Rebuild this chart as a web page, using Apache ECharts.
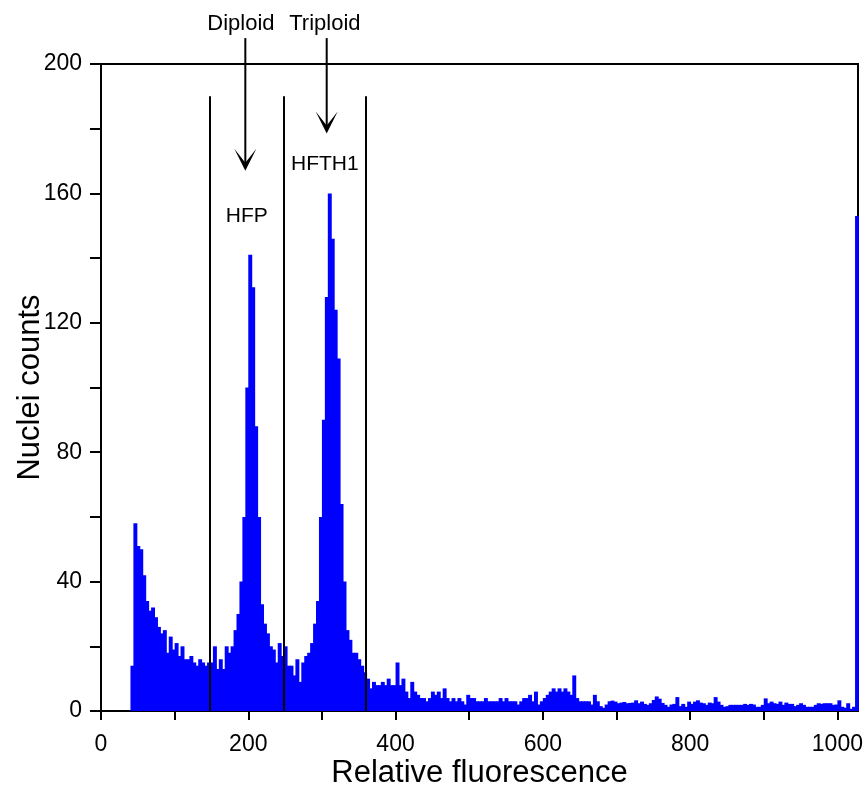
<!DOCTYPE html>
<html><head><meta charset="utf-8">
<script src="https://cdn.jsdelivr.net/npm/echarts@6/dist/echarts.min.js"></script>
<style>html,body{margin:0;padding:0;background:#fff}#c{width:865px;height:787px}</style>
</head><body><div id="c"></div>
<script>
// Histogram definition
const binStart = 40;
const binWidth = 4;
const counts = [
  14,58,51,50,42,34,31,32,29,26,24,25,18,23,19,21,17,20,16,16,
  17,15,14,16,15,14,15,15,20,13,16,13,20,18,20,25,30,40,60,100,
  141,131,88,60,33,27,24,20,19,15,21,17,20,14,14,11,16,9,15,17,
  18,21,27,34,60,90,128,160,146,124,109,64,40,25,22,18,18,16,14,12,
  10,
  7,9,8,8,9,8,10,8,8,15,
  8,10,6,4,9,6,5,4,4,3,
  4,6,5,6,4,7,4,3,4,3,
  4,3,2,5,4,4,3,3,3,4,
  3,3,3,3,4,3,4,3,3,3,
  2,3,4,4,5,3,6,2,3,4,
  5,6,7,6,7,6,7,6,5,11,
  4,3,3,3,3,2,5,3,1.5,1,
  2,3,
  3.2,2.9,2.4,2.6,2.8,2.4,2.5,2.6,3.3,2.4,
  2.9,2.2,1.9,2.4,3.4,4.5,3.8,2.5,1.9,1.3,
  2.0,2.2,4.3,1.5,2.2,1.3,2.9,2.2,2.9,3.3,
  2.6,2.4,1.9,2.6,2.4,4.3,2.9,1.9,1.3,1.5,
  1.9,1.9,1.9,1.9,1.9,2.2,1.9,2.2,2.0,1.3,
  1.3,1.9,3.9,2.4,2.9,2.4,2.2,2.9,1.9,2.6,
  2.2,2.2,1.5,1.9,2.4,1.9,1.3,1.3,1.3,1.9,
  2.4,2.2,2.4,2.4,2.4,1.9,2.0,3.3,1.3,1.0,
  2.4,0.7,1.3,153
];
const xTickLabels = [0,200,400,600,800,1000];
const yTickLabels = [0,40,80,120,160,200];
const gateLines = [148, 248, 360];
const gateTop = 190;
const peakNames = ['HFP','HFTH1'];
const peakNamePos = [[198,153],[304,169]];
const ploidyNames = ['Diploid','Triploid'];
const ploidyNamePos = [[190,212.5],[304,212.5]];
const arrowX = [196, 306.5];
const arrowTip = [167, 178.5];
const arrowStart = 208;

const bins = counts.map((c,i)=>[binStart+i*binWidth, binStart+(i+1)*binWidth, c]);
const narrow = "'Liberation Sans Narrow','Arial Narrow','Liberation Sans',sans-serif";
const regular = "'Liberation Sans',Arial,sans-serif";

const chart = echarts.init(document.getElementById('c'));
chart.setOption({
  animation:false,
  backgroundColor:'#fff',
  grid:{left:101,right:7,top:64,bottom:76,show:true,borderColor:'#000',borderWidth:2,
    containLabel:false,outerBoundsMode:'none'},
  xAxis:{type:'value',min:0,max:1028,interval:100,
    name:'Relative fluorescence',nameLocation:'middle',nameGap:47,nameMoveOverlap:false,
    nameTextStyle:{fontSize:31,color:'#000',fontFamily:regular},
    axisLine:{lineStyle:{color:'#000',width:2}},
    axisTick:{length:9,lineStyle:{color:'#000',width:2}},
    splitLine:{show:false},
    axisLabel:{margin:22,fontSize:23,color:'#000',fontFamily:narrow,showMaxLabel:false,
      formatter:v=>xTickLabels.includes(v)?String(v):''}},
  yAxis:{type:'value',min:0,max:200,interval:20,
    name:'Nuclei counts',nameLocation:'middle',nameGap:55,nameMoveOverlap:false,
    nameTextStyle:{fontSize:31,color:'#000',fontFamily:regular},
    axisLine:{show:true,lineStyle:{color:'#000',width:2}},
    axisTick:{show:true,length:11,lineStyle:{color:'#000',width:2}},
    splitLine:{show:false},
    axisLabel:{margin:19,fontSize:23,color:'#000',fontFamily:narrow,
      formatter:v=>yTickLabels.includes(v)?String(v):''}},
  series:[{
    type:'custom',
    data:bins,
    encode:{x:[0,1],y:2},
    renderItem:(params,api)=>{
      const p0=api.coord([api.value(0),0]);
      const p1=api.coord([api.value(1),api.value(2)]);
      return {type:'rect',shape:{x:p0[0],y:p1[1],width:p1[0]-p0[0]+1,height:p0[1]-p1[1]},
        style:{fill:'#0000ff'}};
    },
    markLine:{silent:true,symbol:'none',label:{show:false},
      lineStyle:{color:'#000',width:2,type:'solid'},
      data:gateLines.map(g=>[{coord:[g,0]},{coord:[g,gateTop]}])}
  }]
});

const px = p=>chart.convertToPixel({gridIndex:0},p);
const g=[];
ploidyNames.forEach((t,i)=>{
  const p=px(ploidyNamePos[i]);
  g.push({type:'text',x:p[0],y:p[1],style:{text:t,fontSize:22,fontFamily:regular,fill:'#000',align:'center',verticalAlign:'middle'}});
});
peakNames.forEach((t,i)=>{
  const p=px(peakNamePos[i]);
  g.push({type:'text',x:p[0],y:p[1],style:{text:t,fontSize:21,fontFamily:regular,fill:'#000',align:'center',verticalAlign:'middle'}});
});
arrowX.forEach((x,i)=>{
  const a=px([x,arrowStart]); const b=px([x,arrowTip[i]]);
  g.push({type:'line',shape:{x1:a[0],y1:a[1],x2:b[0],y2:b[1]-6},style:{stroke:'#000',lineWidth:2}});
  g.push({type:'polygon',shape:{points:[[b[0],b[1]],[b[0]-11,b[1]-22],[b[0],b[1]-8],[b[0]+11,b[1]-22]]},style:{fill:'#000'}});
});
chart.setOption({graphic:g});
</script>
</body></html>
